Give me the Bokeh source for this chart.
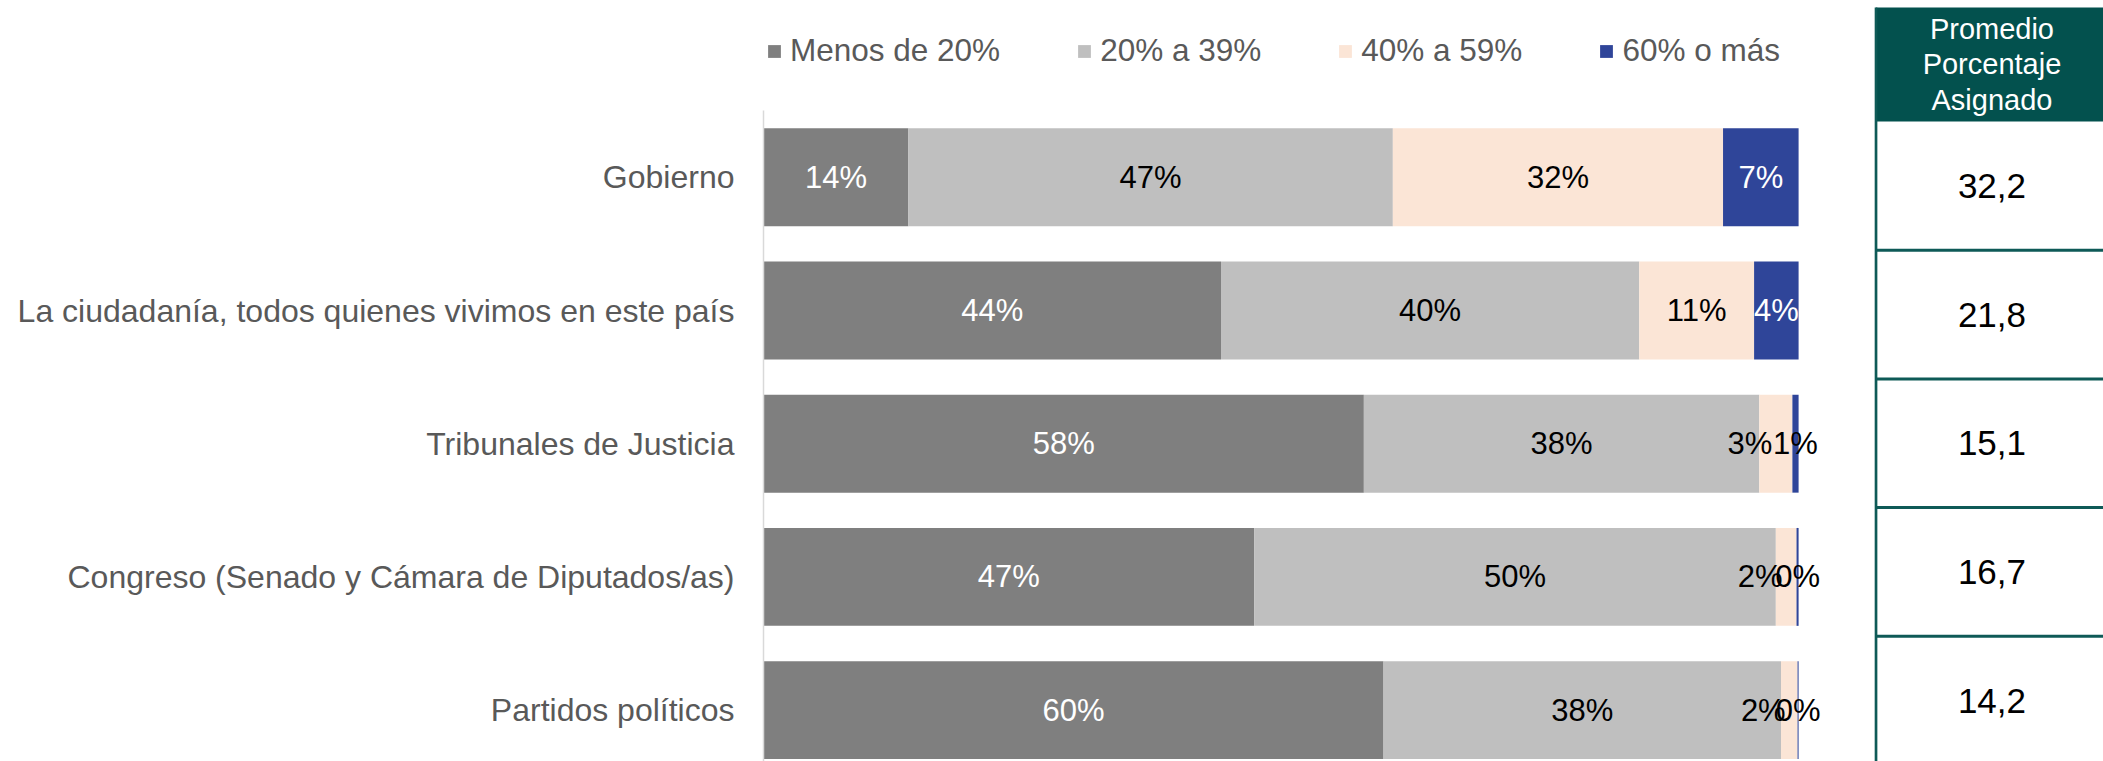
from bokeh.plotting import figure
from bokeh.models import ColumnDataSource, Range1d, FixedTicker, Legend, LegendItem, Span
from bokeh.layouts import row
from bokeh.embed import file_html
from bokeh.resources import INLINE
from bokeh.core.properties import value

# ---------------- data ----------------
categories = [
    "Gobierno",
    "La ciudadanía, todos quienes vivimos en este país",
    "Tribunales de Justicia",
    "Congreso (Senado y Cámara de Diputados/as)",
    "Partidos políticos",
]
series_names = ["Menos de 20%", "20% a 39%", "40% a 59%", "60% o más"]
menos_20 = [14.0, 44.2, 58.0, 47.4, 59.9]
de_20_a_39 = [46.8, 40.4, 38.2, 50.4, 38.4]
de_40_a_59 = [31.9, 11.1, 3.2, 2.0, 1.6]
mas_60 = [7.3, 4.3, 0.6, 0.2, 0.1]
promedio = [32.2, 21.8, 15.1, 16.7, 14.2]
header_lines = ["Promedio", "Porcentaje", "Asignado"]

# ---------------- styles ----------------
colors = ["#7F7F7F", "#BFBFBF", "#FBE5D6", "#2F4599"]
label_colors = ["white", "black", "black", "white"]
TEAL = "#03514E"
LINE_TEAL = "#0E5A57"
FONT_NAME = "Liberation Sans"
FONT = value(FONT_NAME)

series = [menos_20, de_20_a_39, de_40_a_59, mas_60]
keys = ["s0", "s1", "s2", "s3"]
n = len(categories)
ypos = [n - 1 - i for i in range(n)]

data = dict(y=ypos)
for k, s in zip(keys, series):
    data[k] = s
src = ColumnDataSource(data)

H = 761
W_MAIN = 1874
W_TAB = 229
BAR_UNIT_PX = 133.2
BAND_TOP_PX = 110.2
y_top = (n - 0.5) + BAND_TOP_PX / BAR_UNIT_PX
y_bot = y_top - H / BAR_UNIT_PX
PX_PER_PCT = 10.351
FRAME_LEFT = 763
x_end = (W_MAIN - FRAME_LEFT) / PX_PER_PCT

p = figure(width=W_MAIN, height=H, output_backend="svg", toolbar_location=None,
           x_range=Range1d(0, x_end), y_range=Range1d(y_bot, y_top),
           min_border_left=FRAME_LEFT, min_border_right=0,
           min_border_top=0, min_border_bottom=0,
           x_axis_location=None)
p.outline_line_color = None
p.grid.visible = False
p.background_fill_color = "white"
p.border_fill_color = "white"

renderers = p.hbar_stack(keys, y="y", height=0.735, fill_color=colors,
                         line_color=None, source=src)

# segment labels
lx, ly, lt, lc, lo = [], [], [], [], []
for k, vals in enumerate(series):
    for i, v in enumerate(vals):
        left = sum(series[j][i] for j in range(k))
        lx.append(left + v / 2)
        ly.append(ypos[i])
        lt.append(f"{v:.0f}%")
        lc.append(label_colors[k] if v >= 2 else "black")
        lo.append(-26 if (k == 2 and v < 5) else 0)
lab = ColumnDataSource(dict(x=lx, y=ly, t=lt, c=lc, o=lo))
p.text(x="x", y="y", text="t", text_color="c", x_offset="o", source=lab,
       text_align="center", text_baseline="middle",
       text_font=FONT, text_font_size="31px")

# y axis
ax = p.yaxis[0]
ax.ticker = FixedTicker(ticks=ypos)
ax.major_label_overrides = {y: c for y, c in zip(ypos, categories)}
ax.bounds = (y_bot, n - 0.5)
ax.major_tick_line_color = None
ax.minor_tick_line_color = None
ax.major_tick_out = 0
ax.major_tick_in = 0
ax.axis_line_color = "#D9D9D9"
ax.axis_line_width = 1.5
ax.major_label_text_font = FONT_NAME
ax.major_label_text_font_size = "32px"
ax.major_label_text_color = "#595959"
ax.major_label_standoff = 29

legend = Legend(
    items=[LegendItem(label=nm, renderers=[r]) for nm, r in zip(series_names, renderers)],
    orientation="horizontal", location=(3, 692),
    glyph_width=16, glyph_height=16, label_standoff=8, spacing=76,
    padding=0, margin=0, border_line_color=None, background_fill_alpha=0,
    label_text_font=FONT_NAME, label_text_font_size="31.5px",
    label_text_color="#595959",
)
p.add_layout(legend, "center")

# ---------------- table ----------------
ROW_PX = 128.7
ROW0_TOP = 121
HEADER_H = 114 / ROW_PX
t_top = (n - 0.5) + ROW0_TOP / ROW_PX
t_bot = t_top - H / ROW_PX

t = figure(width=W_TAB, height=H, output_backend="svg", toolbar_location=None,
           x_range=Range1d(-0.006, 1.0), y_range=Range1d(t_bot, t_top),
           min_border=0, x_axis_location=None, y_axis_location=None)
t.outline_line_color = None
t.grid.visible = False
t.background_fill_color = "white"
t.border_fill_color = "white"

t.quad(left=[0], right=[1.2], bottom=[n - 0.5], top=[n - 0.5 + HEADER_H],
       fill_color=TEAL, line_color=None)
t.segment(x0=[0] * (n - 1), x1=[1.2] * (n - 1),
          y0=[i + 0.5 for i in range(n - 1)], y1=[i + 0.5 for i in range(n - 1)],
          line_color=LINE_TEAL, line_width=3)
t.segment(x0=[0], x1=[0], y0=[t_bot - 1], y1=[n - 0.5 + HEADER_H],
          line_color=LINE_TEAL, line_width=3)

t.text(x=[0.51] * n, y=ypos, text=[f"{v:.1f}".replace(".", ",") for v in promedio],
       text_align="center", text_baseline="middle", text_color="black",
       text_font=FONT, text_font_size="35px")
t.text(x=[0.51], y=[n - 0.5 + HEADER_H / 2], text=["\n".join(header_lines)],
       text_align="center", text_baseline="middle", text_color="white",
       text_font=FONT, text_font_size="29px", text_line_height=1.12)

layout = row(p, t)
open("out.html", "w").write(file_html(layout, INLINE))
